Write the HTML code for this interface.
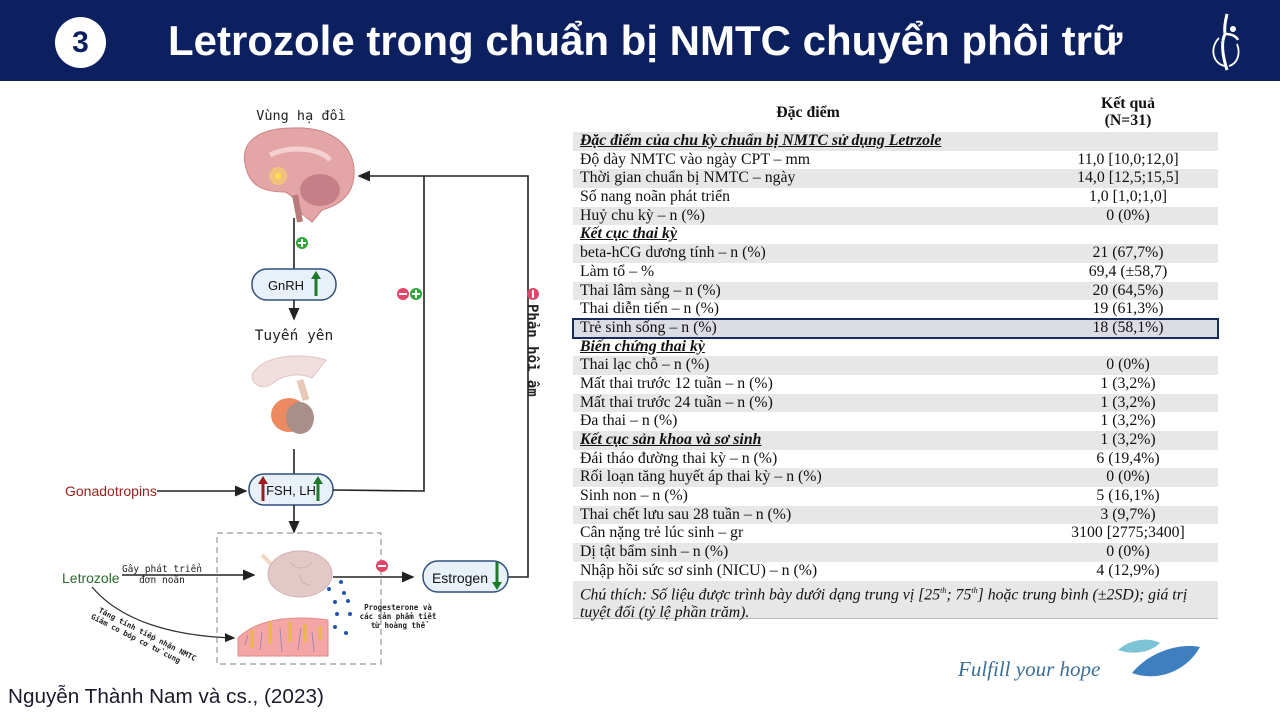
<!DOCTYPE html>
<html><head><meta charset="utf-8"><style>
*{margin:0;padding:0;box-sizing:border-box}
body{width:1280px;height:720px;position:relative;background:#fff;overflow:hidden;font-family:"Liberation Sans",sans-serif}
.hdr{position:absolute;left:0;top:0;width:1280px;height:81px;background:#0c1f5f}
.num{position:absolute;left:55px;top:17px;width:51px;height:51px;border-radius:50%;background:#fff;color:#0c1f5f;font:bold 30px "Liberation Sans",sans-serif;text-align:center;line-height:51px}
.title{position:absolute;left:168px;top:17px;color:#fff;font:bold 42px "Liberation Sans",sans-serif;white-space:nowrap}
.tbl{position:absolute;left:573px;top:93px;width:645px;font-family:"Liberation Serif",serif;font-size:15.8px;color:#111}
.row{height:18.7px;line-height:18.7px;position:relative;padding-left:7px;white-space:nowrap}
.row.g{background:#e7e7e7}
.row .v{position:absolute;left:450px;width:210px;top:0;text-align:center}
.sec{font-weight:bold;font-style:italic;text-decoration:underline}
.cite{position:absolute;left:8px;top:685px;font-size:20.7px;color:#1a1a2e}
.mono{font-family:"DejaVu Sans Mono","Liberation Mono",monospace}
</style></head><body>
<div class="hdr"></div>
<div class="num">3</div>
<div class="title">Letrozole trong chuẩn bị NMTC chuyển phôi trữ</div>
<svg style="position:absolute;left:1205px;top:12px" width="40" height="62" viewBox="0 0 40 62">
<path d="M22 2 C20 10 19 16 20 22 C16 30 17 42 22 58" stroke="#fff" stroke-width="3" fill="none"/>
<path d="M20 22 C26 22 31 24 33 28" stroke="#fff" stroke-width="2.5" fill="none"/>
<circle cx="28" cy="17" r="3" fill="#fff"/>
<path d="M14 26 C4 36 8 52 20 54" stroke="#fff" stroke-width="1.8" fill="none"/>
<path d="M32 32 C36 42 32 52 24 54" stroke="#fff" stroke-width="1.8" fill="none"/>
</svg>

<svg style="position:absolute;left:0;top:90px" width="570" height="590" viewBox="0 90 570 590">
<defs><marker id="ah" markerWidth="8" markerHeight="8" refX="7" refY="4" orient="auto"><path d="M0,0.5 L8,4 L0,7.5Z" fill="#222"/></marker></defs>
<text x="301" y="120" class="mono" font-size="13.5" text-anchor="middle" fill="#222">Vùng hạ đồi</text>
<path d="M246 168 C238 140 262 128 292 128 C330 126 356 145 354 175 C353 195 340 205 322 210 L312 222 L302 214 C296 200 292 195 285 192 C262 192 250 185 246 168Z" fill="#e3a5a5" stroke="#c98585"/>
<ellipse cx="320" cy="190" rx="20" ry="16" fill="#c57f86"/>
<path d="M270 155 C290 145 320 148 330 160" stroke="#f5d0d0" stroke-width="5" fill="none"/>
<circle cx="278" cy="176" r="9" fill="#f2c17a"/><circle cx="278" cy="176" r="3" fill="#ffe34d"/>
<path d="M295 195 L300 222" stroke="#b87a7a" stroke-width="6"/>
<line x1="294" y1="218" x2="294" y2="269" stroke="#222" stroke-width="1.6"/>
<circle cx="302" cy="243" r="6" fill="#2fa53a"/><path d="M298 243h8M302 239v8" stroke="#fff" stroke-width="2"/>
<rect x="252" y="269" width="84" height="31" rx="15" fill="#e8f1fa" stroke="#2f4f7f" stroke-width="1.5"/>
<text x="286" y="290" font-size="13" text-anchor="middle" fill="#111">GnRH</text>
<path d="M316 296 V276" stroke="#1e7a2a" stroke-width="3"/><path d="M311 279 L316 271 L321 279Z" fill="#1e7a2a"/>
<line x1="294" y1="300" x2="294" y2="319" stroke="#222" stroke-width="1.6" marker-end="url(#ah)"/>
<text x="294" y="340" class="mono" font-size="14.5" text-anchor="middle" fill="#222">Tuyến yên</text>
<path d="M252 375 C262 355 300 352 326 360 L312 378 C300 372 282 375 272 384 C262 390 252 385 252 375Z" fill="#f1dede" stroke="#e0c5c5"/>
<path d="M300 380 L306 400" stroke="#e8c8b8" stroke-width="7"/>
<ellipse cx="289" cy="415" rx="18" ry="17" fill="#ec8a62"/>
<ellipse cx="300" cy="418" rx="14" ry="16" fill="#a89088"/>
<line x1="294" y1="449" x2="294" y2="474" stroke="#222" stroke-width="1.6"/>
<rect x="249" y="474" width="84" height="31" rx="15" fill="#e8f1fa" stroke="#2f4f7f" stroke-width="1.5"/>
<text x="291" y="495" font-size="13" text-anchor="middle" fill="#111">FSH, LH</text>
<path d="M263 501 V481" stroke="#9e1b1b" stroke-width="3"/><path d="M258 484 L263 476 L268 484Z" fill="#9e1b1b"/>
<path d="M318 501 V481" stroke="#1e7a2a" stroke-width="3"/><path d="M313 484 L318 476 L323 484Z" fill="#1e7a2a"/>
<text x="65" y="496" font-size="14" fill="#9e1b1b">Gonadotropins</text>
<line x1="157" y1="491" x2="246" y2="491" stroke="#222" stroke-width="1.6" marker-end="url(#ah)"/>
<line x1="294" y1="505" x2="294" y2="532" stroke="#222" stroke-width="1.6" marker-end="url(#ah)"/>
<polyline points="333,490 424,491 424,176" fill="none" stroke="#222" stroke-width="1.6"/>
<polyline points="508,577 528,577 528,176 359,176" fill="none" stroke="#222" stroke-width="1.6" marker-end="url(#ah)"/>
<circle cx="403" cy="294" r="6" fill="#e0456a"/><path d="M399 294h8" stroke="#fff" stroke-width="2"/>
<circle cx="416" cy="294" r="6" fill="#2fa53a"/><path d="M412 294h8M416 290v8" stroke="#fff" stroke-width="2"/>
<circle cx="533" cy="294" r="6" fill="#e0456a"/><path d="M533 290v8" stroke="#fff" stroke-width="2"/>
<text x="0" y="0" class="mono" font-size="14" font-weight="bold" fill="#222" transform="translate(528,304) rotate(90)">Phản hồi âm</text>
<rect x="217" y="533" width="164" height="131" fill="none" stroke="#999" stroke-width="1.2" stroke-dasharray="6,4"/>
<path d="M262 555 L275 568" stroke="#f3d6bd" stroke-width="4"/>
<ellipse cx="300" cy="574" rx="32" ry="23" fill="#e3c8c8" stroke="#d2b3b3"/>
<path d="M290 562 C296 570 306 570 312 562 M300 575 C300 585 310 585 310 585" stroke="#cfb0b0" fill="none"/>
<line x1="333" y1="577" x2="413" y2="577" stroke="#222" stroke-width="1.6" marker-end="url(#ah)"/>
<circle cx="382" cy="566" r="6" fill="#e0456a"/><path d="M378 566h8" stroke="#fff" stroke-width="2"/>
<rect x="423" y="561" width="85" height="31" rx="15" fill="#e8f1fa" stroke="#2f4f7f" stroke-width="1.5"/>
<text x="460" y="583" font-size="14" text-anchor="middle" fill="#111">Estrogen</text>
<path d="M497 562 V585" stroke="#1e7a2a" stroke-width="3"/><path d="M492 582 L497 590 L502 582Z" fill="#1e7a2a"/>
<g fill="#2456a8"><circle cx="341" cy="582" r="2"/><circle cx="329" cy="589" r="2"/><circle cx="344" cy="593" r="2"/><circle cx="335" cy="602" r="2"/><circle cx="348" cy="601" r="2"/><circle cx="337" cy="614" r="2"/><circle cx="350" cy="614" r="2"/><circle cx="335" cy="627" r="2"/><circle cx="346" cy="633" r="2"/></g>
<text class="mono" font-size="7.5" font-weight="bold" fill="#222" text-anchor="middle"><tspan x="398" y="610">Progesterone và</tspan><tspan x="398" y="619">các sản phẩm tiết</tspan><tspan x="398" y="628">từ hoàng thể</tspan></text>
<path d="M238 638 C260 616 300 616 328 620 L328 656 L238 656Z" fill="#f4a5a5" stroke="#e58888"/>
<g stroke="#e9b84a" stroke-width="3"><path d="M252 630v18"/><path d="M270 622v22"/><path d="M290 622v20"/><path d="M305 624v18"/><path d="M320 626v14"/></g>
<g stroke="#8a83b5" stroke-width="0.8"><path d="M245 645l3-10M260 650l2-18M282 652l-2-24M298 650l3-22M314 652l-2-20"/></g>
<text x="62" y="583" font-size="14" fill="#2b6b2b">Letrozole</text>
<line x1="122" y1="575" x2="254" y2="575" stroke="#222" stroke-width="1.6" marker-end="url(#ah)"/>
<text class="mono" font-size="9.5" fill="#222" text-anchor="middle"><tspan x="162" y="572">Gây phát triển</tspan><tspan x="162" y="583">đơn noãn</tspan></text>
<path d="M92 587 C120 620 170 636 234 638" fill="none" stroke="#333" stroke-width="1.3" marker-end="url(#ah)"/>
<text class="mono" font-size="7.5" font-weight="bold" fill="#222" transform="translate(98,612) rotate(27)"><tspan x="0" y="0">Tăng tính tiếp nhận NMTC</tspan><tspan x="-4" y="9">Giảm co bóp cơ tử cung</tspan></text>
</svg>

<div class="tbl">
<div style="height:39px;position:relative;font-weight:bold">
<div style="position:absolute;left:160px;top:11px;width:150px;text-align:center">Đặc điểm</div>
<div style="position:absolute;left:480px;top:2px;width:150px;text-align:center;line-height:17px">Kết quả<br>(N=31)</div>
</div>
<div class="row g"><span class="sec">Đặc điểm của chu kỳ chuẩn bị NMTC sử dụng Letrzole</span></div>
<div class="row">Độ dày NMTC vào ngày CPT – mm<span class="v">11,0 [10,0;12,0]</span></div>
<div class="row g">Thời gian chuẩn bị NMTC – ngày<span class="v">14,0 [12,5;15,5]</span></div>
<div class="row">Số nang noãn phát triển<span class="v">1,0 [1,0;1,0]</span></div>
<div class="row g">Huỷ chu kỳ – n (%)<span class="v">0 (0%)</span></div>
<div class="row"><span class="sec">Kết cục thai kỳ</span></div>
<div class="row g">beta-hCG dương tính – n (%)<span class="v">21 (67,7%)</span></div>
<div class="row">Làm tổ – %<span class="v">69,4 (±58,7)</span></div>
<div class="row g">Thai lâm sàng – n (%)<span class="v">20 (64,5%)</span></div>
<div class="row">Thai diễn tiến – n (%)<span class="v">19 (61,3%)</span></div>
<div class="row g" style="outline:2px solid #1a2a5a;outline-offset:-1px;background:#dcdde4">Trẻ sinh sống – n (%)<span class="v">18 (58,1%)</span></div>
<div class="row"><span class="sec">Biến chứng thai kỳ</span></div>
<div class="row g">Thai lạc chỗ – n (%)<span class="v">0 (0%)</span></div>
<div class="row">Mất thai trước 12 tuần – n (%)<span class="v">1 (3,2%)</span></div>
<div class="row g">Mất thai trước 24 tuần – n (%)<span class="v">1 (3,2%)</span></div>
<div class="row">Đa thai – n (%)<span class="v">1 (3,2%)</span></div>
<div class="row g"><span class="sec">Kết cục sản khoa và sơ sinh</span><span class="v">1 (3,2%)</span></div>
<div class="row">Đái tháo đường thai kỳ – n (%)<span class="v">6 (19,4%)</span></div>
<div class="row g">Rối loạn tăng huyết áp thai kỳ – n (%)<span class="v">0 (0%)</span></div>
<div class="row">Sinh non – n (%)<span class="v">5 (16,1%)</span></div>
<div class="row g">Thai chết lưu sau 28 tuần – n (%)<span class="v">3 (9,7%)</span></div>
<div class="row">Cân nặng trẻ lúc sinh – gr<span class="v">3100 [2775;3400]</span></div>
<div class="row g">Dị tật bẩm sinh – n (%)<span class="v">0 (0%)</span></div>
<div class="row">Nhập hồi sức sơ sinh (NICU) – n (%)<span class="v">4 (12,9%)</span></div>
<div class="row g" style="height:38px;line-height:18px;padding-top:1px;padding-right:20px;font-style:italic;border-bottom:1px solid #bbb;white-space:normal">Chú thích: Số liệu được trình bày dưới dạng trung vị [25<sup style="font-size:8px">th</sup>; 75<sup style="font-size:8px">th</sup>] hoặc trung bình (±2SD); giá trị tuyệt đối (tỷ lệ phần trăm).</div>
</div>

<div style="position:absolute;left:958px;top:657px;font:italic 21px 'Liberation Serif',serif;color:#3d6f96">Fulfill your hope</div>
<svg style="position:absolute;left:1110px;top:635px" width="95" height="50" viewBox="0 0 95 50">
<path d="M8 15 C20 4 38 2 50 8 C40 18 22 20 8 15Z" fill="#7cc3d6"/>
<path d="M22 38 C40 16 70 8 90 12 C78 34 50 48 22 38Z" fill="#3e7fbf"/>
</svg>
<div class="cite">Nguyễn Thành Nam và cs., (2023)</div>
</body></html>
